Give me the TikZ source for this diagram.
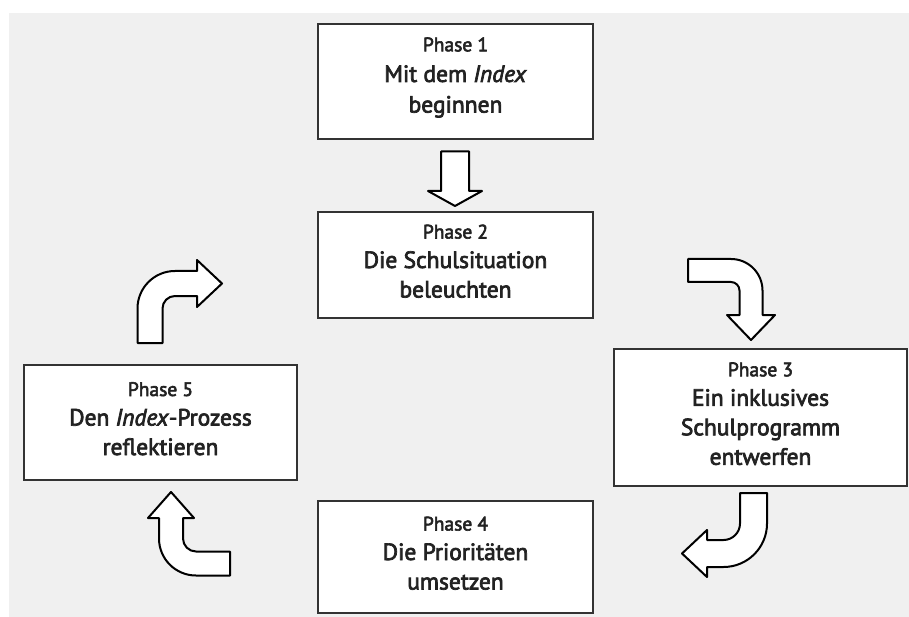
\documentclass[tikz,border=0pt]{standalone}
\usepackage{fontspec}
\setmainfont{PT Sans}[FakeBold=3]
\definecolor{bgc}{HTML}{F0F0F0}
\definecolor{boxline}{HTML}{333333}
\definecolor{txt}{HTML}{222222}
\newcommand{\ls}{\rule[-10pt]{0pt}{26pt}}
\newcommand{\lsa}{\rule[-13pt]{0pt}{26pt}}
\newcommand{\ph}[1]{{\fontsize{19.5}{29.5}\selectfont #1}}
\begin{document}
\begin{tikzpicture}[x=1pt,y=-1pt,
  phase/.style={draw=boxline, line width=1.8pt, fill=white, align=center, text=txt, inner sep=0pt,
    font=\fontsize{23.5}{29.5}\selectfont},
  barrow/.style={draw=black, line width=2pt, fill=white, line join=round}]
\useasboundingbox (0,0) rectangle (909,617);
\fill[bgc] (9,13) rectangle (909,617);

\node[phase, minimum width=275pt, minimum height=115pt] (p1) at (455.5,81.5)
  {\lsa\ph{Phase 1}\\\lsa Mit dem \textit{Index}\\\lsa beginnen};
\node[phase, minimum width=275pt, minimum height=106pt] (p2) at (455.5,265)
  {\ls\ph{Phase 2}\\\ls Die Schulsituation\\\ls beleuchten};
\node[phase, minimum width=293pt, minimum height=137pt] (p3) at (760.5,417.5)
  {\ls\ph{Phase 3}\\\ls Ein inklusives\\\ls Schulprogramm\\\ls entwerfen};
\node[phase, minimum width=275pt, minimum height=112pt] (p4) at (455.5,557)
  {\ls\ph{Phase 4}\\\ls Die Prioritäten\\\ls umsetzen};
\node[phase, minimum width=273pt, minimum height=115pt] (p5) at (160.5,422.5)
  {\ls\ph{Phase 5}\\\ls Den \textit{Index}-Prozess\\\ls reflektieren};

% 1 -> 2
\draw[barrow] (441,151.5) -- (469,151.5) -- (469,191) -- (482,191) -- (455,206) -- (428,191) -- (441,191) -- cycle;
% 2 -> 3
\draw[barrow] (688,259) -- (731,259) arc[start angle=-90,end angle=0,radius=31.5] -- (762.5,315) -- (775,315) -- (751,340) -- (727,315) -- (739.5,315) -- (739.5,290.5) arc[start angle=0,end angle=-90,radius=8.5] -- (688,282) -- cycle;
% 3 -> 4
\draw[barrow] (740,493) -- (740,523.5) arc[start angle=0,end angle=90,radius=16.5] -- (707,540) -- (707,530) -- (682,553.5) -- (707,577) -- (707,567) -- (723.5,567) arc[start angle=90,end angle=0,radius=43.5] -- (767,493) -- cycle;
% 4 -> 5
\draw[barrow] (230,551.5) -- (196,551.5) arc[start angle=90,end angle=180,radius=13] -- (183,518) -- (194,518) -- (171,492) -- (148,518) -- (159,518) -- (159,538.5) arc[start angle=180,end angle=90,radius=37] -- (230,575.5) -- cycle;
% 5 -> 2
\draw[barrow] (137.5,343) -- (137.5,308.5) arc[start angle=180,end angle=270,radius=37.5] -- (197,271) -- (197,260) -- (222,283.5) -- (197,307) -- (197,296) -- (175,296) arc[start angle=270,end angle=180,radius=12.5] -- (162.5,343) -- cycle;
\end{tikzpicture}
\end{document}
